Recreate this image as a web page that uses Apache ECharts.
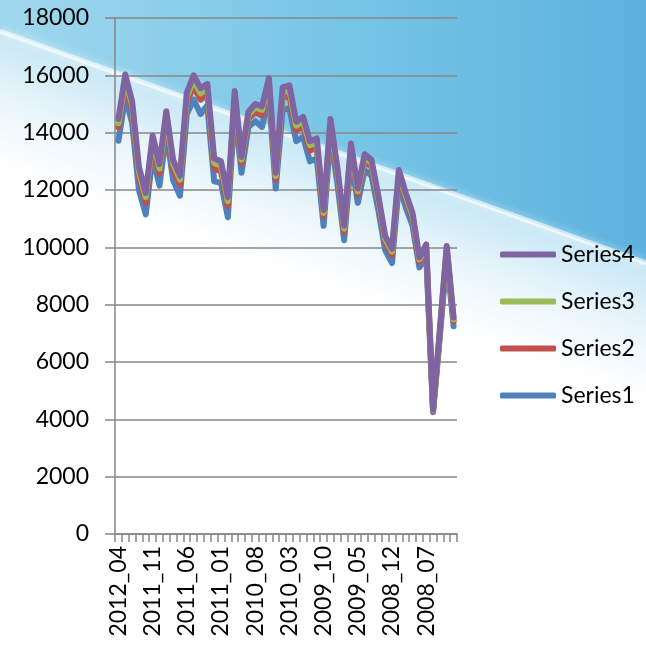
<!DOCTYPE html>
<html>
<head>
<meta charset="utf-8">
<style>
html,body{margin:0;padding:0;background:#fff;}
#chart{width:646px;height:647px;}
</style>
<script src="https://cdn.jsdelivr.net/npm/echarts@6/dist/echarts.min.js"></script>
</head>
<body>
<div id="chart"></div>
<script>
var categories = [
  "2012_04","2012_03","2012_02","2012_01","2011_12","2011_11","2011_10","2011_09","2011_08","2011_07",
  "2011_06","2011_05","2011_04","2011_03","2011_02","2011_01","2010_12","2010_11","2010_10","2010_09",
  "2010_08","2010_07","2010_06","2010_05","2010_04","2010_03","2010_02","2010_01","2009_12","2009_11",
  "2009_10","2009_09","2009_08","2009_07","2009_06","2009_05","2009_04","2009_03","2009_02","2009_01",
  "2008_12","2008_11","2008_10","2008_09","2008_08","2008_07","2008_06","2008_05","2008_04","2008_03"
];
var series1 = [13720,15250,14350,12000,11150,13200,12150,14000,12350,11800,
  14650,15150,14650,14950,12300,12250,11050,14800,12600,14200,
  14400,14200,15300,12050,14800,14850,13700,13850,13000,13100,
  10750,13900,12250,10250,13100,11550,12700,12500,11300,9900,
  9450,12200,11400,10750,9300,9700,4250,6900,9700,7250];
var series2 = [14180,15680,14770,12450,11550,13580,12570,14420,12720,12180,
  15070,15630,15150,15350,12750,12650,11430,15150,12920,14480,
  14720,14600,15630,12350,15230,15280,14070,14240,13380,13470,
  11070,14220,12550,10530,13380,11830,13000,12800,11580,10180,
  9730,12480,11680,11000,9490,9920,4300,7040,9890,7420];
var series3 = [14330,15870,14950,12640,11750,13760,12750,14600,12910,12360,
  15250,15830,15370,15550,12940,12850,11610,15320,13060,14620,
  14880,14790,15780,12490,15420,15490,14240,14400,13560,13660,
  11200,14360,12690,10650,13520,11950,13140,12940,11700,10300,
  9850,12600,11800,11100,9580,10020,4330,7100,9980,7490];
var series4 = [14480,16030,15100,12800,11900,13900,12900,14750,13050,12500,
  15400,16000,15550,15700,13100,13000,11750,15450,13150,14720,
  15000,14920,15900,12600,15580,15650,14380,14550,13700,13800,
  11300,14480,12800,10750,13620,12050,13250,13050,11800,10400,
  9950,12700,11900,11200,9650,10100,4350,7150,10050,7550];
var seriesNames = ["Series1","Series2","Series3","Series4"];
var seriesColors = ["#4F81BD","#C0504D","#9BBB59","#8064A2"];
var seriesData = [series1, series2, series3, series4];

var FONT = "Lato";
var chart = echarts.init(document.getElementById('chart'), null, {renderer:'canvas'});
var option = {
  animation:false,
  backgroundColor:'#ffffff',
  graphic:[
    {type:'polygon', z:-10, silent:true,
     shape:{points:[[0,0],[646,0],[646,263],[0,31]]},
     style:{fill:new echarts.graphic.LinearGradient(0,0,1,0,[{offset:0,color:'#a0d8ee'},{offset:0.5,color:'#79c6e7'},{offset:1,color:'#5db2de'}])}},
    {type:'polygon', z:-10, silent:true,
     shape:{points:[[0,31],[646,263],[646,460],[0,230]]},
     style:{fill:new echarts.graphic.LinearGradient(323,147,279,269,[{offset:0,color:'#c6e7f5'},{offset:0.5,color:'#eaf6fb'},{offset:1,color:'#ffffff'}],true)}},
    {type:'line', z:-9, silent:true,
     shape:{x1:0,y1:31,x2:646,y2:263},
     style:{stroke:'rgba(255,255,255,0.6)',lineWidth:5,shadowBlur:8,shadowColor:'rgba(255,255,255,0.9)'}}
  ],
  grid:{left:115,right:189,top:18,bottom:113,containLabel:false},
  legend:{
    orient:'vertical', left:495, top:238,
    data:["Series4","Series3","Series2","Series1"],
    icon:'roundRect', itemWidth:56, itemHeight:6, itemGap:24,
    textStyle:{fontFamily:FONT,fontSize:23,color:'#000'}
  },
  xAxis:{
    type:'category', data:categories, boundaryGap:true,
    axisLine:{lineStyle:{color:'#878787',width:1.5}},
    axisTick:{show:true,interval:0,length:8,lineStyle:{color:'#878787',width:1.5}},
    axisLabel:{interval:4,rotate:90,margin:12,fontFamily:FONT,fontSize:23,color:'#000'}
  },
  yAxis:{
    type:'value', min:0, max:18000, interval:2000,
    axisLine:{show:true,lineStyle:{color:'#878787',width:1.5}},
    axisTick:{show:true,length:10,lineStyle:{color:'#878787',width:1.5}},
    splitLine:{show:true,lineStyle:{color:'#878787',width:1.5}},
    axisLabel:{margin:26,fontFamily:FONT,fontSize:23,color:'#000',formatter:function(v){return String(v);}}
  },
  series: seriesNames.map(function(n,i){
    return {
      name:n, type:'line', data:seriesData[i], symbol:'none', smooth:false,
      color:seriesColors[i],
      lineStyle:{width:6,color:seriesColors[i],cap:'round',join:'round'},
      z:2+i
    };
  })
};
chart.setOption(option);
</script>
</body>
</html>
